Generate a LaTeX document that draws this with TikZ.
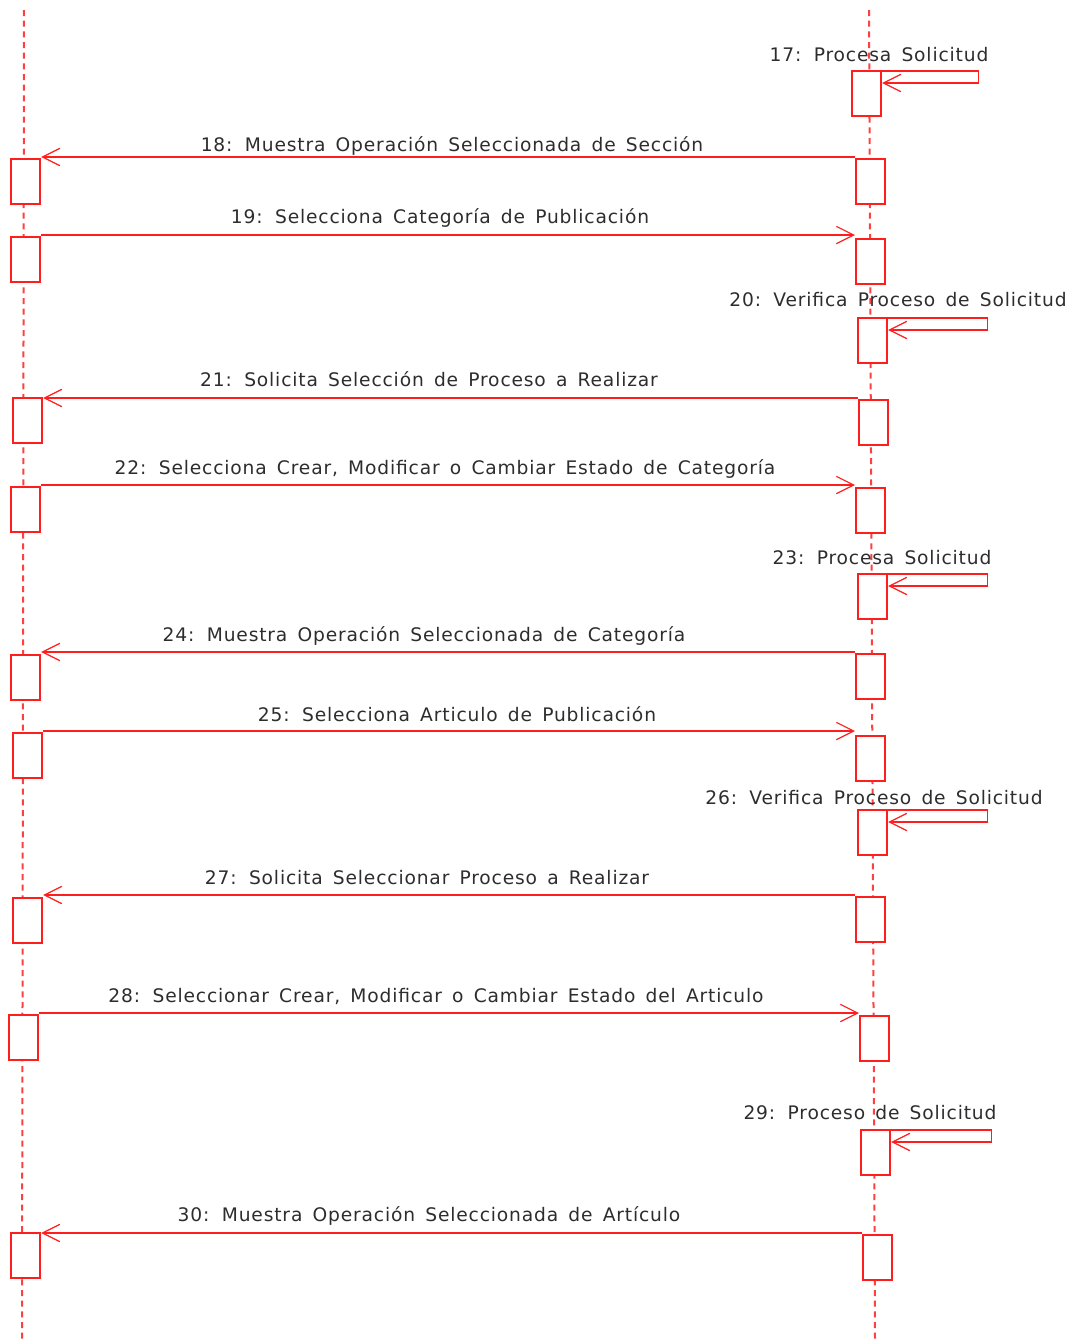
\documentclass[tikz,border=0pt]{standalone}
\usepackage{fontspec}
\setmainfont{DejaVu Sans}[WordSpace=1.5,LetterSpace=4.5]
\usetikzlibrary{arrows.meta}
\definecolor{umlred}{RGB}{255,30,30}
\definecolor{umltext}{RGB}{45,45,45}
\tikzset{
	actbox/.style={draw=umlred,line width=1.4pt,fill=white,inner sep=0pt,
		minimum width=22pt,minimum height=33.5pt,anchor=north west},
	msg/.style={draw=umlred,line width=.9pt,-{Straight Barb[length=13pt,width=13pt,line width=.9pt]}},
	lifeline/.style={draw=umlred!85,line width=1.5pt,dash pattern=on 4.5pt off 3.5pt},
	msglabel/.style={text=umltext,font=\fontsize{14}{16}\selectfont,inner sep=0pt}
}
\begin{document}
\begin{tikzpicture}[x=0.75pt,y=-0.75pt]
\useasboundingbox (0,0) rectangle (1070,1339);
% lifelines
\coordinate (lt) at (24,10);
\coordinate (lb) at (22,1339);
\coordinate (rt) at (869,10);
\coordinate (rb) at (875,1339);
\draw[lifeline] (lt) -- (lb);
\draw[lifeline] (rt) -- (rb);
% messages to the left lifeline
\foreach \n/\lx/\ly/\rx/\ry/\tx/\ty/\txt in {
	18/10/158/855/158/452/146/{18: Muestra Operación Seleccionada de Sección},
	21/12/397/858/399/429/379/{21: Solicita Selección de Proceso a Realizar},
	24/10/654/855/653/424/636/{24: Muestra Operación Seleccionada de Categoría},
	27/12/897/855/896/427/878/{27: Solicita Seleccionar Proceso a Realizar},
	30/10/1232/862/1234/429/1216/{30: Muestra Operación Seleccionada de Artículo}}
{
	\node[actbox] (L\n) at (\lx,\ly) {};
	\node[actbox] (R\n) at (\rx,\ry) {};
	\draw[msg] ([yshift=.75pt]R\n.north west) -- ([yshift=.75pt]R\n.north west -| L\n.east);
	\node[msglabel] (t\n) at (\tx,\ty) {\txt};
}
% messages to the right lifeline
\foreach \n/\lx/\ly/\rx/\ry/\tx/\ty/\txt in {
	19/10/236/855/238/440/218/{19: Selecciona Categoría de Publicación},
	22/10/486/855/487/445/469/{22: Selecciona Crear, Modificar o Cambiar Estado de Categoría},
	25/12/732/855/735/457/714/{25: Selecciona Articulo de Publicación},
	28/8/1014/859/1015/436/996/{28: Seleccionar Crear, Modificar o Cambiar Estado del Articulo}}
{
	\node[actbox] (L\n) at (\lx,\ly) {};
	\node[actbox] (R\n) at (\rx,\ry) {};
	\draw[msg] ([yshift=.75pt]L\n.north east) -- ([yshift=.75pt]L\n.north east -| R\n.west);
	\node[msglabel] (t\n) at (\tx,\ty) {\txt};
}
% self messages
\foreach \n/\x/\y/\w/\tx/\ty/\txt in {
	17/851/70/96/879/55/{17: Procesa Solicitud},
	20/857/317/99/898/300/{20: Verifica Proceso de Solicitud},
	23/857/573/99/882/558/{23: Procesa Solicitud},
	26/857/809/99/874/798/{26: Verifica Proceso de Solicitud},
	29/860/1129/100/870/1113/{29: Proceso de Solicitud}}
{
	\node[actbox] (S\n) at (\x,\y) {};
	\draw[msg] ([yshift=-.75pt]S\n.north east) -- ++(\w,0) -- ++(0,12) -- ++(-\w,0);
	\node[msglabel] (t\n) at (\tx,\ty) {\txt};
}
\end{tikzpicture}
\end{document}
